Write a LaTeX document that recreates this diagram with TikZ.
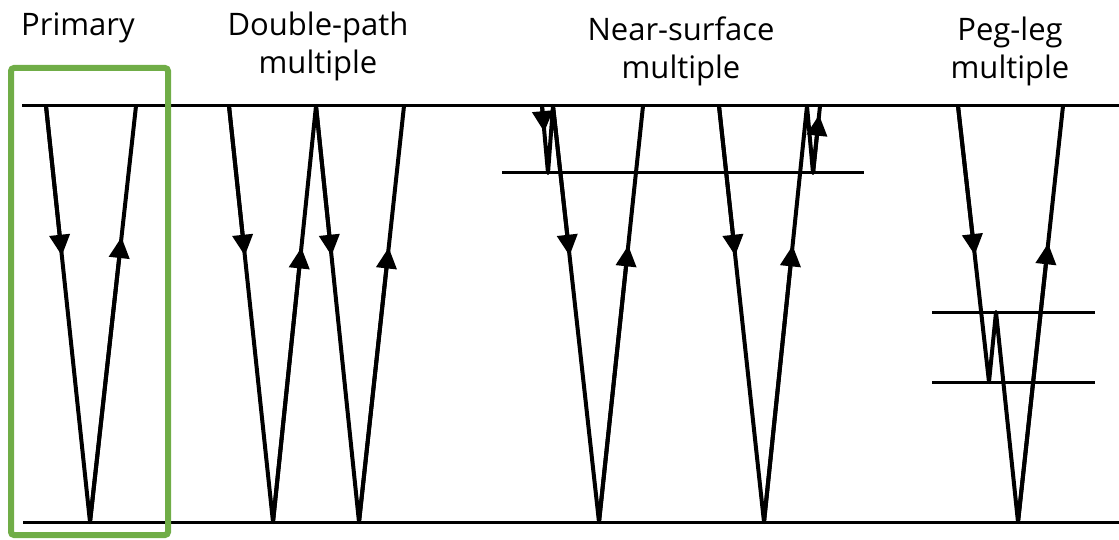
\documentclass[tikz,border=0pt]{standalone}
\usepackage{fontspec}
\setmainfont{Open Sans}
\usetikzlibrary{arrows.meta,calc}
\definecolor{boxgreen}{HTML}{70AD47}

\begin{document}
\begin{tikzpicture}[x=1pt,y=-1pt,
  lbl/.style={font=\fontsize{31}{38}\selectfont,align=center,inner sep=0pt,anchor=base},
  layer/.style={line width=3pt},
  ray/.style={line width=4pt,line join=round},
  head/.style={line width=4pt,-{Triangle[length=21pt 0 0,width=20pt 0 0]}}]
\useasboundingbox (0,0) rectangle (1119,540);
% labels (base = last line)
\node[lbl] (prim) at (78,36)   {Primary};
\node[lbl] (dbl)  at (318,74)  {Double-path\\multiple};
\node[lbl] (near) at (681,79)  {Near-surface\\multiple};
\node[lbl] (peg)  at (1010,79) {Peg-leg\\multiple};
% surface and reflector
\coordinate (surfL) at (22,106);  \coordinate (surfR) at (1119,106);
\coordinate (reflL) at (23,522);  \coordinate (reflR) at (1119,522);
\draw[layer] (surfL) -- (surfR);
\draw[layer] (reflL) -- (reflR);
% near-surface and peg-leg layers
\coordinate (nsL) at (502,173);  \coordinate (nsR) at (864,173);
\coordinate (plAL) at (932,312); \coordinate (plAR) at (1095,312);
\coordinate (plBL) at (932,382); \coordinate (plBR) at (1095,382);
\draw[layer] (nsL) -- (nsR);
\draw[layer] (plAL) -- (plAR);
\draw[layer] (plBL) -- (plBR);

% primary
\coordinate (p1) at (46,106); \coordinate (p2) at (90,522); \coordinate (p3) at (136,106);
\draw[ray] (p1) -- (p2) -- (p3);
\draw[head] (p1) -- ($(p1)!.36!(p2)$);
\draw[head] (p2) -- ($(p2)!.685!(p3)$);

% double-path
\coordinate (d1) at (229,106); \coordinate (d2) at (273,522); \coordinate (d3) at (316,106);
\coordinate (d4) at (359,522); \coordinate (d5) at (404,106);
\draw[ray] (d1) -- (d2) -- (d3) -- (d4) -- (d5);
\draw[head] (d1) -- ($(d1)!.36!(d2)$);
\draw[head] (d2) -- ($(d2)!.66!(d3)$);
\draw[head] (d3) -- ($(d3)!.36!(d4)$);
\draw[head] (d4) -- ($(d4)!.66!(d5)$);

% near-surface, source side
\coordinate (n1) at (542,106); \coordinate (n2) at (548,173); \coordinate (n3) at (553,106);
\coordinate (n4) at (599,522); \coordinate (n5) at (643,106);
\draw[ray] (n1) -- (n2) -- (n3) -- (n4) -- (n5);
\draw[head] (n1) -- ($(n1)!.39!(n2)$);
\draw[head] (n3) -- ($(n3)!.36!(n4)$);
\draw[head] (n4) -- ($(n4)!.665!(n5)$);
% near-surface, receiver side
\coordinate (n6) at (719,106); \coordinate (n7) at (764,522); \coordinate (n8) at (807,106);
\coordinate (n9) at (813,173); \coordinate (n10) at (820,106);
\draw[ray] (n6) -- (n7) -- (n8) -- (n9) -- (n10);
\draw[head] (n6) -- ($(n6)!.36!(n7)$);
\draw[head] (n7) -- ($(n7)!.665!(n8)$);
\draw[head] (n9) -- ($(n9)!.87!(n10)$);

% peg-leg
\coordinate (g1) at (958,106); \coordinate (g2) at (989,382); \coordinate (g3) at (996,312);
\coordinate (g4) at (1018,522); \coordinate (g5) at (1063,106);
\draw[ray] (g1) -- (g2) -- (g3) -- (g4) -- (g5);
\draw[head] (g1) -- ($(g1)!.54!(g2)$);
\draw[head] (g4) -- ($(g4)!.67!(g5)$);

% highlight
\draw[boxgreen,line width=6pt,rounded corners=3pt] (11,68) rectangle (168,535);
\end{tikzpicture}
\end{document}
